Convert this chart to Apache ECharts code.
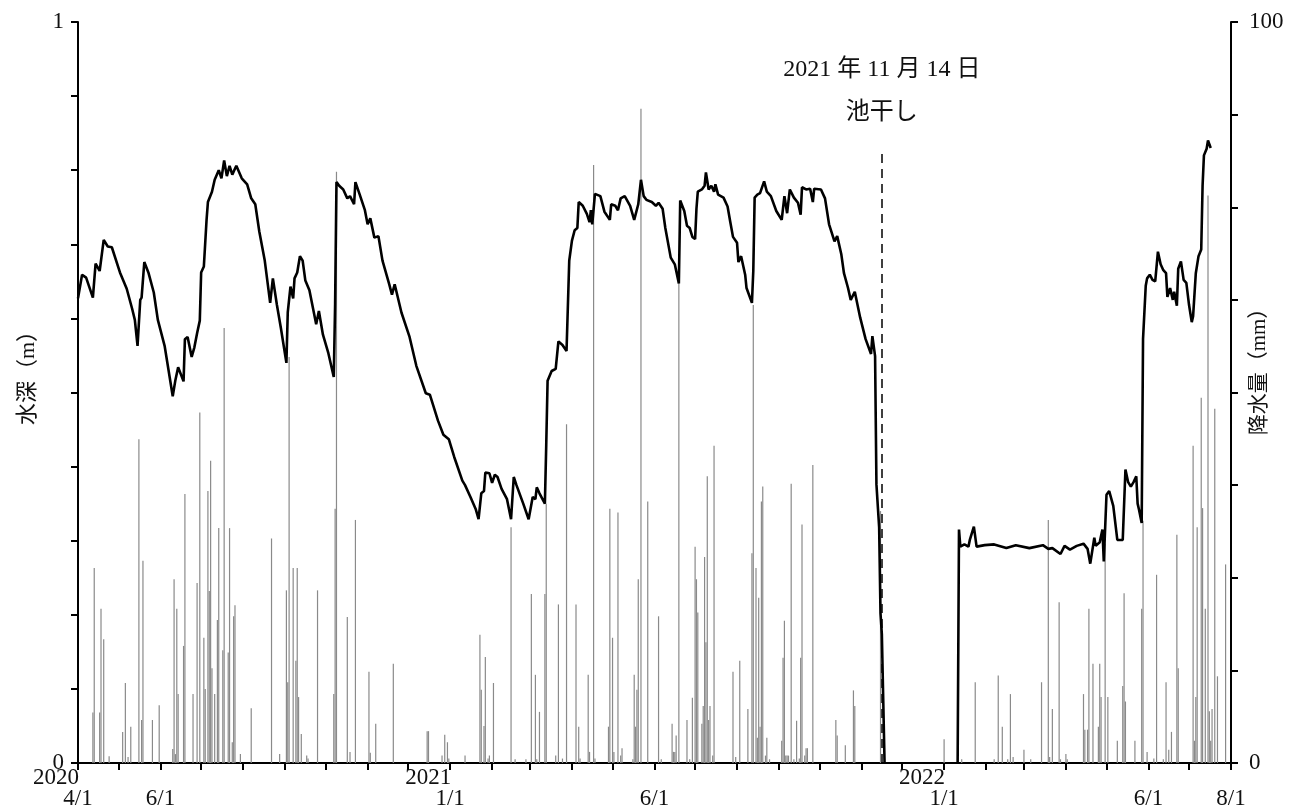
<!DOCTYPE html>
<html>
<head>
<meta charset="utf-8">
<script src="https://cdn.jsdelivr.net/npm/echarts@6/dist/echarts.min.js"></script>
<style>
html,body{margin:0;padding:0;background:#fff;}
#chart{width:1296px;height:811px;}
</style>
</head>
<body>
<div id="chart"></div>
<script>
// Day offsets are counted from 2020-04-01.
const startDate = '2020-04-01';
const endDate = '2022-08-01';
const labelDates = ['2020-04-01','2020-06-01','2021-01-01','2021-06-01','2022-01-01','2022-06-01','2022-08-01'];
const drainDate = '2021-11-16';
const annotationLines = ['2021 年 11 月 14 日', '池干し'];
const depthName = '水深（m）';
const rainName = '降水量（mm）';

// water depth [dayOffset, m]; null = no record
const depth = [[0,0.627],[3,0.659],[6,0.655],[11,0.628],[13,0.674],[16,0.664],[19,0.706],[22,0.697],[25,0.696],[31,0.662],[36,0.640],[40,0.613],[42,0.598],[44,0.563],[46,0.625],[47,0.628],[49,0.676],[52,0.662],[56,0.635],[59,0.598],[64,0.563],[67,0.529],[70,0.495],[72,0.517],[74,0.534],[75,0.532],[78,0.515],[79,0.572],[81,0.575],[84,0.548],[86,0.561],[88,0.580],[90,0.597],[91,0.662],[93,0.670],[95,0.733],[96,0.757],[99,0.771],[101,0.787],[104,0.800],[106,0.789],[108,0.813],[110,0.792],[112,0.806],[114,0.794],[117,0.806],[121,0.789],[125,0.781],[128,0.762],[131,0.754],[134,0.717],[138,0.678],[142,0.621],[144,0.654],[147,0.618],[150,0.586],[154,0.540],[155,0.608],[157,0.643],[159,0.627],[160,0.654],[162,0.662],[164,0.684],[166,0.678],[168,0.651],[171,0.638],[176,0.592],[178,0.610],[181,0.578],[185,0.553],[189,0.521],[190,0.620],[191,0.784],[193,0.779],[196,0.774],[199,0.762],[201,0.765],[204,0.754],[205,0.784],[208,0.768],[212,0.746],[214,0.727],[216,0.735],[219,0.709],[222,0.711],[225,0.678],[230,0.646],[232,0.632],[234,0.646],[239,0.608],[245,0.575],[250,0.536],[257,0.499],[260,0.497],[266,0.462],[270,0.443],[274,0.437],[278,0.413],[284,0.381],[286,0.375],[290,0.359],[294,0.342],[296,0.329],[298,0.364],[300,0.367],[301,0.392],[304,0.391],[306,0.378],[308,0.389],[310,0.386],[313,0.370],[317,0.356],[320,0.329],[322,0.386],[324,0.375],[329,0.350],[333,0.329],[334,0.329],[336,0.359],[338,0.356],[339,0.372],[341,0.364],[342,0.365],[345,0.350],[346,0.429],[347,0.516],[350,0.529],[353,0.532],[355,0.569],[358,0.564],[361,0.556],[363,0.678],[365,0.705],[367,0.719],[369,0.722],[370,0.757],[373,0.752],[376,0.741],[378,0.730],[379,0.746],[380,0.727],[382,0.768],[386,0.765],[389,0.744],[393,0.733],[394,0.754],[397,0.752],[399,0.746],[401,0.762],[404,0.765],[408,0.752],[411,0.733],[414,0.754],[416,0.787],[418,0.765],[420,0.760],[424,0.757],[427,0.752],[429,0.756],[432,0.748],[434,0.722],[438,0.682],[441,0.673],[444,0.647],[445,0.759],[448,0.745],[450,0.725],[452,0.722],[454,0.710],[456,0.707],[457,0.748],[458,0.771],[461,0.774],[463,0.779],[464,0.797],[466,0.774],[468,0.779],[470,0.771],[471,0.781],[473,0.767],[477,0.763],[480,0.751],[482,0.730],[484,0.710],[487,0.702],[488,0.676],[490,0.684],[493,0.659],[494,0.641],[498,0.621],[499,0.664],[500,0.763],[502,0.767],[504,0.769],[507,0.785],[509,0.771],[512,0.765],[516,0.745],[520,0.733],[522,0.765],[524,0.742],[526,0.774],[529,0.763],[532,0.756],[534,0.740],[535,0.777],[538,0.774],[541,0.775],[543,0.757],[544,0.775],[549,0.774],[552,0.762],[555,0.727],[559,0.704],[561,0.711],[564,0.687],[566,0.661],[569,0.641],[571,0.625],[574,0.636],[578,0.601],[582,0.572],[586,0.552],[587,0.576],[589,0.549],[590,0.376],[592,0.318],[593,0.202],[594,0.174],[596,0.000],[620,null],[650,0.000],[651,0.315],[652,0.292],[655,0.295],[658,0.292],[659,0.301],[662,0.319],[664,0.292],[670,0.294],[677,0.295],[686,0.290],[693,0.294],[703,0.290],[713,0.294],[717,0.289],[720,0.290],[726,0.282],[729,0.293],[733,0.288],[738,0.293],[743,0.296],[746,0.289],[748,0.269],[751,0.304],[752,0.293],[755,0.298],[757,0.315],[758,0.272],[760,0.362],[762,0.367],[765,0.347],[768,0.301],[772,0.301],[774,0.396],[776,0.379],[778,0.373],[780,0.379],[782,0.387],[783,0.350],[784,0.342],[786,0.324],[787,0.572],[789,0.644],[790,0.654],[792,0.659],[794,0.652],[796,0.650],[798,0.690],[800,0.673],[802,0.665],[804,0.661],[805,0.629],[807,0.641],[809,0.625],[810,0.636],[812,0.617],[813,0.667],[815,0.677],[817,0.652],[819,0.648],[821,0.618],[823,0.595],[824,0.603],[826,0.661],[828,0.684],[830,0.693],[831,0.779],[832,0.820],[834,0.829],[835,0.840],[837,0.830]];

// daily rainfall [dayOffset, mm]
const rain = [[11,6.8],[12,26.3],[16,6.8],[17,20.8],[19,16.7],[23,0.9],[33,4.2],[35,10.8],[37,0.8],[39,4.9],[45,43.7],[47,5.8],[48,27.3],[55,5.8],[60,7.8],[70,1.9],[71,24.8],[72,1.2],[73,20.8],[74,9.3],[78,15.8],[79,36.3],[85,9.3],[88,24.3],[90,47.3],[93,16.9],[94,10.0],[96,36.7],[97,23.2],[98,40.8],[99,12.8],[101,9.3],[103,19.3],[104,31.7],[107,15.2],[108,58.7],[111,14.9],[112,31.7],[114,2.8],[115,19.8],[116,21.3],[120,1.2],[128,7.4],[143,30.3],[149,1.2],[154,23.3],[155,10.9],[156,54.8],[159,26.3],[161,13.8],[162,26.3],[163,8.9],[165,3.9],[169,1.0],[170,0.6],[177,23.3],[189,9.3],[190,34.3],[191,79.8],[199,19.7],[201,1.5],[205,32.8],[215,12.3],[216,1.4],[220,5.3],[233,13.4],[258,4.3],[259,4.3],[269,1.0],[271,3.8],[273,2.8],[274,0.6],[286,1.0],[297,17.3],[298,9.9],[300,5.0],[301,14.3],[303,0.6],[304,1.0],[307,10.8],[320,31.8],[323,0.5],[331,0.5],[335,22.8],[338,11.9],[339,0.5],[341,6.9],[345,22.8],[346,35.0],[353,1.0],[355,21.4],[358,0.6],[361,45.7],[368,21.4],[370,4.9],[371,0.6],[377,11.9],[378,1.5],[381,80.7],[382,0.6],[392,4.9],[393,34.3],[395,16.9],[396,1.5],[399,33.8],[401,1.0],[402,2.0],[410,0.5],[411,11.9],[412,4.9],[413,9.9],[414,24.8],[416,88.3],[421,35.3],[429,19.8],[431,0.5],[439,5.3],[440,1.5],[441,1.5],[442,3.7],[444,64.7],[450,5.8],[452,0.5],[454,8.8],[456,29.2],[457,24.8],[458,20.3],[461,5.3],[462,7.7],[463,27.8],[464,16.3],[465,38.7],[466,5.8],[467,7.7],[469,1.0],[470,42.8],[484,12.3],[486,0.8],[489,13.8],[495,7.3],[498,28.3],[499,61.8],[501,26.3],[502,3.4],[503,22.3],[504,4.9],[505,35.3],[506,37.3],[508,1.0],[509,3.4],[511,0.5],[520,3.0],[521,14.2],[522,19.2],[523,1.0],[524,1.0],[525,1.0],[527,37.7],[529,0.5],[531,5.7],[533,0.6],[534,14.2],[535,32.2],[537,1.0],[538,2.0],[539,2.0],[543,40.2],[560,5.8],[561,3.7],[567,2.4],[573,9.8],[574,7.7],[593,34.0],[640,3.2],[653,0.5],[663,10.9],[677,0.5],[680,11.8],[683,4.9],[687,0.5],[689,9.3],[691,0.8],[699,1.8],[704,0.5],[712,10.9],[717,32.8],[718,0.8],[720,7.3],[725,21.7],[726,0.5],[730,1.2],[731,0.5],[743,9.3],[744,4.5],[746,4.5],[747,20.8],[750,13.4],[754,4.9],[755,13.4],[756,8.9],[759,29.6],[761,8.9],[768,3.0],[772,10.4],[773,22.9],[774,8.3],[781,3.0],[786,20.8],[787,32.7],[790,1.5],[795,0.6],[797,25.4],[802,0.5],[804,10.9],[806,1.8],[808,4.2],[812,30.8],[813,12.8],[824,42.8],[825,3.0],[826,8.9],[827,31.8],[830,49.3],[831,34.4],[833,20.8],[835,76.6],[836,7.0],[837,3.0],[838,7.3],[840,47.8],[842,11.7],[848,26.8]];

const depthAxis = {min: 0, max: 1, interval: 0.1, labels: [0, 1]};
const rainAxis = {min: 0, max: 100, interval: 12.5, labels: [0, 100]};

const DAY = 86400000;
function parseDate(s){ const p = s.split('-').map(Number); return Date.UTC(p[0], p[1]-1, p[2]); }
const t0 = parseDate(startDate);
const tEnd = parseDate(endDate);
const toT = d => t0 + d * DAY;

// month-start tick positions
const monthTicks = [];
{
  const s = new Date(t0);
  let y = s.getUTCFullYear(), m = s.getUTCMonth();
  while (Date.UTC(y, m, 1) <= tEnd) { monthTicks.push(Date.UTC(y, m, 1)); m++; if (m > 11) { m = 0; y++; } }
}
const labelTs = labelDates.map(parseDate);

const FONT = "'Liberation Serif', 'Noto Sans CJK JP', serif";
const TXT = '#111';

const chart = echarts.init(document.getElementById('chart'), null, {renderer: 'canvas'});
chart.setOption({
  animation: false,
  backgroundColor: '#fff',
  grid: {left: 78, right: 65, top: 22, bottom: 48, containLabel: false, outerBoundsMode: 'none'},
  xAxis: {
    type: 'value', min: t0, max: tEnd,
    axisLine: {show: true, lineStyle: {color: '#000', width: 2}},
    axisTick: {show: true, customValues: monthTicks, length: 7, inside: false, lineStyle: {color: '#000', width: 2}},
    splitLine: {show: false},
    axisLabel: {
      customValues: labelTs, margin: 4, hideOverlap: false, color: TXT, fontFamily: FONT, fontSize: 23,
      formatter: function (v) {
        const d = new Date(v);
        const y = d.getUTCFullYear(), m = d.getUTCMonth() + 1, dd = d.getUTCDate();
        const showYear = (m === 1 || v === t0);
        return (showYear ? '{y|' + y + '}' : '{e| }') + '\n{m|' + m + '/' + dd + '}';
      },
      rich: {
        y: {fontSize: 23, fontFamily: FONT, color: TXT, lineHeight: 21, padding: [0, 44, 0, 0], align: 'center'},
        e: {fontSize: 23, fontFamily: FONT, lineHeight: 21, align: 'center'},
        m: {fontSize: 23, fontFamily: FONT, color: TXT, lineHeight: 21, align: 'center'}
      }
    }
  },
  yAxis: [
    {
      type: 'value', position: 'left', min: depthAxis.min, max: depthAxis.max, interval: depthAxis.interval,
      name: depthName, nameLocation: 'middle', nameRotate: 90, nameGap: 39, nameMoveOverlap: false,
      nameTextStyle: {fontFamily: FONT, fontSize: 22, color: TXT, padding: [0, 0, 0, 40]},
      axisLine: {show: true, lineStyle: {color: '#000', width: 2}},
      axisTick: {show: true, length: 7, inside: false, lineStyle: {color: '#000', width: 2}},
      splitLine: {show: false},
      axisLabel: {
        margin: 14, color: TXT, fontFamily: FONT, fontSize: 23,
        formatter: v => depthAxis.labels.some(l => Math.abs(l - v) < 1e-9) ? String(Math.round(v)) : ''
      }
    },
    {
      type: 'value', position: 'right', min: rainAxis.min, max: rainAxis.max, interval: rainAxis.interval,
      name: rainName, nameLocation: 'middle', nameRotate: 90, nameGap: 18, nameMoveOverlap: false,
      nameTextStyle: {fontFamily: FONT, fontSize: 21, color: TXT, padding: [0, 0, 0, 52]},
      axisLine: {show: true, lineStyle: {color: '#000', width: 2}},
      axisTick: {show: true, length: 7, inside: false, lineStyle: {color: '#000', width: 2}},
      splitLine: {show: false},
      axisLabel: {
        margin: 18, color: TXT, fontFamily: FONT, fontSize: 23,
        formatter: v => rainAxis.labels.some(l => Math.abs(l - v) < 1e-9) ? String(Math.round(v)) : ''
      }
    }
  ],
  series: [
    {
      type: 'bar', yAxisIndex: 1, barWidth: 1.2, barGap: '-100%',
      itemStyle: {color: '#8a8a8a'},
      data: rain.map(p => [toT(p[0]), p[1]]),
      z: 2
    },
    {
      type: 'line', yAxisIndex: 0, showSymbol: false, symbol: 'none',
      connectNulls: false,
      lineStyle: {color: '#000', width: 2.6},
      data: depth.map(p => [toT(p[0]), p[1]]),
      z: 3,
      markLine: {
        silent: true, symbol: ['none', 'none'], animation: false,
        lineStyle: {type: [9, 6], color: '#000', width: 1.5},
        label: {
          show: true, position: 'end', distance: 16,
          formatter: '{a|' + annotationLines[0] + '}\n{b|' + annotationLines[1] + '}',
          rich: {
            a: {fontFamily: FONT, fontSize: 24, color: TXT, lineHeight: 43, align: 'center'},
            b: {fontFamily: FONT, fontSize: 24, color: TXT, lineHeight: 43, align: 'center'}
          }
        },
        data: [[{coord: [parseDate(drainDate), 0]}, {coord: [parseDate(drainDate), 0.827]}]]
      }
    }
  ]
});
</script>
</body>
</html>
